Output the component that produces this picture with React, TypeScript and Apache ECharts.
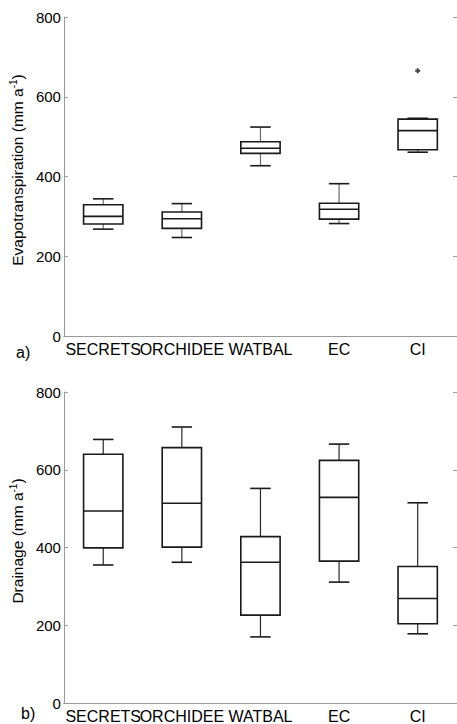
import React, { useEffect, useRef } from "react";
import * as echarts from "echarts";

const categories = ["SECRETS", "ORCHIDEE", "WATBAL", "EC", "CI"];
// [whiskerLow, q1, median, q3, whiskerHigh]
const etBoxes = [
  [268, 281, 300, 329, 344],
  [247, 270, 294, 311, 332],
  [427, 458, 471, 487, 524],
  [282, 293, 318, 333, 382],
  [461, 467, 515, 544, 546],
];
const etOutliers = [[4, 665]];
const drainBoxes = [
  [355, 399, 494, 640, 678],
  [362, 401, 514, 657, 710],
  [170, 226, 362, 428, 552],
  [311, 365, 529, 624, 666],
  [178, 204, 269, 351, 515],
];
const yTicks = [0, 200, 400, 600, 800];

const FONT = "'Liberation Sans', Arial, sans-serif";
const AXIS_GREY = "#9a9a9a";

function makeRender(whiskerColor: string) {
  return (params: any, api: any) => {
    const i = api.value(0);
    const lo = api.coord([i, api.value(1)]);
    const q1 = api.coord([i, api.value(2)]);
    const med = api.coord([i, api.value(3)]);
    const q3 = api.coord([i, api.value(4)]);
    const hi = api.coord([i, api.value(5)]);
    const band = api.size([1, 0])[0];
    const bw = band * 0.5;
    const cw = band * 0.26;
    const x = lo[0];
    const boxStyle = { stroke: "#1a1a1a", lineWidth: 1.6, fill: "#fff" };
    const lineStyle = { stroke: "#1a1a1a", lineWidth: 1.6 };
    const wStyle = { stroke: whiskerColor, lineWidth: 1.2 };
    return {
      type: "group",
      children: [
        { type: "line", shape: { x1: x, y1: q3[1], x2: x, y2: hi[1] }, style: wStyle },
        { type: "line", shape: { x1: x, y1: q1[1], x2: x, y2: lo[1] }, style: wStyle },
        { type: "line", shape: { x1: x - cw / 2, y1: hi[1], x2: x + cw / 2, y2: hi[1] }, style: lineStyle },
        { type: "line", shape: { x1: x - cw / 2, y1: lo[1], x2: x + cw / 2, y2: lo[1] }, style: lineStyle },
        { type: "rect", shape: { x: x - bw / 2, y: q3[1], width: bw, height: q1[1] - q3[1] }, style: boxStyle },
        { type: "line", shape: { x1: x - bw / 2, y1: med[1], x2: x + bw / 2, y2: med[1] }, style: lineStyle },
      ],
    };
  };
}

function xAxes(gridIndex: number) {
  const common = {
    type: "category",
    data: categories,
    gridIndex,
    boundaryGap: true,
    axisLine: { lineStyle: { color: AXIS_GREY, width: 1 } },
    axisTick: { inside: true, alignWithLabel: true, length: 4, lineStyle: { color: AXIS_GREY } },
    splitLine: { show: false },
  };
  return [
    {
      ...common,
      position: "bottom",
      axisLabel: { interval: 0, color: "#000", fontSize: 16, fontFamily: FONT, margin: 5 },
    },
    { ...common, position: "top", axisLabel: { show: false } },
  ];
}

function yAxes(gridIndex: number, nameMain: string) {
  const common = {
    type: "value",
    gridIndex,
    min: 0,
    max: 800,
    interval: 200,
    axisLine: { show: true, lineStyle: { color: AXIS_GREY, width: 1 } },
    axisTick: { show: true, inside: true, length: 4, lineStyle: { color: AXIS_GREY } },
    splitLine: { show: false },
  };
  return [
    {
      ...common,
      position: "left",
      axisLabel: {
        color: "#000",
        fontSize: 15,
        fontFamily: FONT,
        margin: 3,
        formatter: (v: number) => (yTicks.includes(v) ? String(v) : ""),
      },
      name: `{m|${nameMain} (mm a}{s|-1}{m|)}`,
      nameLocation: "middle",
      nameGap: 31,
      nameTextStyle: {
        padding: [0, 0, 0, 13],
        rich: {
          m: { fontSize: 15.5, fontFamily: FONT, color: "#000", lineHeight: 18 },
          s: { fontSize: 10, fontFamily: FONT, color: "#000", verticalAlign: "top", lineHeight: 18 },
        },
      },
    },
    { ...common, position: "right", axisLabel: { show: false } },
  ];
}

export default function App() {
  const ref = useRef<HTMLDivElement>(null);
  useEffect(() => {
    document.body.style.margin = "0";
    const chart = echarts.init(ref.current!, undefined, { renderer: "svg" });
    const etData = etBoxes.map((b, i) => [i, ...b]);
    const drData = drainBoxes.map((b, i) => [i, ...b]);
    chart.setOption({
      animation: false,
      backgroundColor: "#fff",
      textStyle: { fontFamily: FONT },
      grid: [
        { left: 62, top: 17, width: 398, height: 319 },
        { left: 62, top: 392, width: 398, height: 311 },
      ],
      xAxis: [...xAxes(0), ...xAxes(1)],
      yAxis: [...yAxes(0, "Evapotranspiration"), ...yAxes(1, "Drainage")],
      graphic: [
        { type: "text", left: 16, top: 344, style: { text: "a)", font: `16px ${FONT}`, fill: "#000" } },
        { type: "text", left: 21, top: 705, style: { text: "b)", font: `16px ${FONT}`, fill: "#000" } },
      ],
      series: [
        {
          type: "custom",
          xAxisIndex: 0,
          yAxisIndex: 0,
          renderItem: makeRender("#6a6a6a"),
          encode: { x: 0, y: [1, 2, 3, 4, 5] },
          data: etData,
        },
        {
          type: "scatter",
          xAxisIndex: 0,
          yAxisIndex: 0,
          symbol: "path://M1.5,0H3.5V1.5H5V3.5H3.5V5H1.5V3.5H0V1.5H1.5Z",
          symbolSize: 5,
          itemStyle: { color: "#111" },
          data: etOutliers,
        },
        {
          type: "custom",
          xAxisIndex: 2,
          yAxisIndex: 2,
          renderItem: makeRender("#2a2a2a"),
          encode: { x: 0, y: [1, 2, 3, 4, 5] },
          data: drData,
        },
      ],
    });
    return () => chart.dispose();
  }, []);
  return <div ref={ref} style={{ width: 457, height: 724, position: "absolute", left: 0, top: 0 }} />;
}
